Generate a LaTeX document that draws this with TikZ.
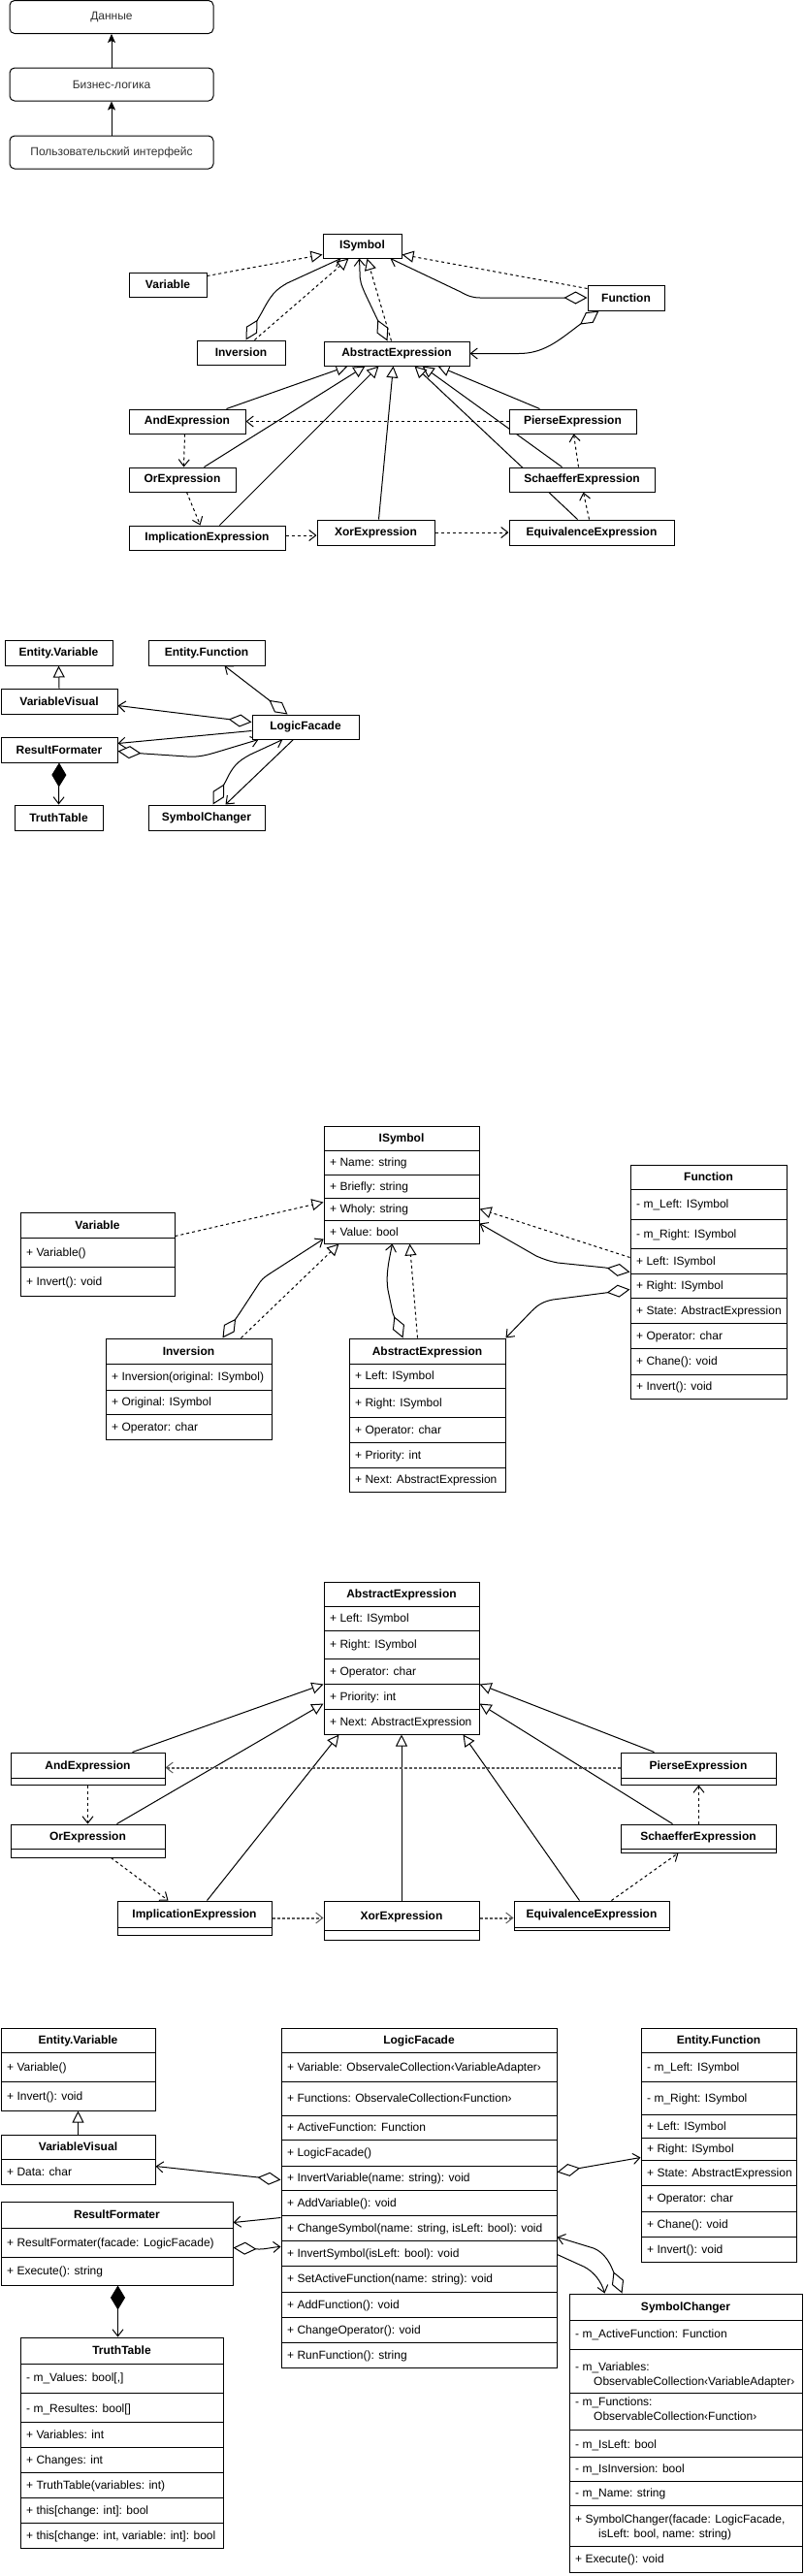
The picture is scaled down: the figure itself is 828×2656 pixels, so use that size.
\documentclass[tikz,border=0pt]{standalone}
\usepackage{fontspec}
\setmainfont{Liberation Sans}
\usetikzlibrary{arrows.meta,fit}
\pgfdeclarelayer{bgzero}
\pgfdeclarelayer{conn}
\pgfsetlayers{bgzero,conn,main}
\newcommand{\twelve}{\fontsize{12pt}{14pt}\selectfont}
\tikzset{
  uT/.tip={Triangle[open,length=12pt,width=12pt,line width=1pt]},
  uV/.tip={Straight Barb[length=7pt,width=11pt,line width=1pt]},
  uD/.tip={Diamond[open,length=24pt,width=13pt,line width=1pt]},
  uF/.tip={Diamond[length=25pt,width=15pt,line width=1pt]},
  uS/.tip={Stealth[length=9pt,width=8pt,inset=2pt]},
  lw/.style={line width=1pt},
  rbx/.style={draw,lw,fill=white,rounded corners=5pt,minimum width=210pt,minimum height=34pt,inner sep=0pt,font=\twelve,text=black!80},
  sbx/.style={draw,lw,fill=white,inner sep=0pt,minimum height=25pt,font=\twelve\bfseries},
  ubx/.style={draw,lw,fill=white,inner sep=0pt},
  hdr/.style={font=\twelve\bfseries,inner sep=0pt,text height=9.6pt,text depth=1pt},
  attr/.style={font=\twelve,anchor=west,inner sep=0pt,text height=9.6pt,text depth=1pt},
  gen/.style={lw,-uT},
  real/.style={lw,dash pattern=on 3pt off 3pt,-uT},
  dep/.style={lw,dash pattern=on 3pt off 3pt,-uV},
  depthick/.style={line width=2pt,draw=black!65,dash pattern=on 3pt off 2pt,-uV},
  assoc/.style={lw,-uV},
  agg/.style={lw,uD-uV},
  comp/.style={lw,uF-uV},
}
\newcommand{\ubox}[5]{\node[ubx,fit={(#2,#3) (#4,#5)}] (#1) {};}
\newcommand{\usep}[3]{\draw[lw] (#1,#3) -- (#2,#3);}
\newcommand{\uhd}[5]{\node[hdr] at ({(#1+#2)/2},{(#3+#4)/2}) {#5};}
\newcommand{\uat}[4]{\node[attr] at ({#1+6},{(#2+#3)/2}) {#4};}
\begin{document}
\begin{tikzpicture}[x=1pt,y=-1pt]
\useasboundingbox (0,0) rectangle (828,2656);
\begin{pgfonlayer}{bgzero}
\fill[white] (0,0) rectangle (828,2656);
\end{pgfonlayer}

% ---------------- Section 1: layers
\node[rbx] (data) at (115,17.5) {Данные};
\node[rbx] (biz) at (115,87) {Бизнес-логика};
\node[rbx] (ui) at (115,157) {Пользовательский интерфейс};
\draw[lw,-uS] (biz.north) -- (data.south);
\draw[lw,-uS] (ui.north) -- (biz.south);

% ---------------- Section 2: entity overview
\node[sbx,minimum width=81pt] (isym2) at (373.5,253.5) {ISymbol};
\node[sbx,minimum width=80pt] (var2) at (173,293.5) {Variable};
\node[sbx,minimum width=79pt,minimum height=26pt] (fun2) at (645.5,307) {Function};
\node[sbx,minimum width=91pt] (inv2) at (248.5,363.5) {Inversion};
\node[sbx,minimum width=150pt] (ae2) at (409,364.5) {AbstractExpression};
\node[sbx,minimum width=120pt] (and2) at (193,434.5) {AndExpression};
\node[sbx,minimum width=131pt] (pie2) at (590.5,434.5) {PierseExpression};
\node[sbx,minimum width=110pt] (or2) at (188,494.5) {OrExpression};
\node[sbx,minimum width=150pt] (sch2) at (600,494.5) {SchaefferExpression};
\node[sbx,minimum width=161pt] (imp2) at (213.5,554.5) {ImplicationExpression};
\node[sbx,minimum width=121pt,minimum height=26pt] (xor2) at (387.5,549) {XorExpression};
\node[sbx,minimum width=170pt,minimum height=26pt] (eq2) at (610,549) {EquivalenceExpression};

\begin{pgfonlayer}{conn}
\draw[real] ([yshift=-4pt]var2.north east) -- ([yshift=4pt]isym2.south west);
\draw[agg] ([xshift=51pt]inv2.north west) -- (270,322) .. controls (280,303) and (284,299) .. (296,292) -- ([xshift=19pt]isym2.south west);
\draw[real] ([xshift=60pt]inv2.north west) -- ([xshift=27pt]isym2.south west);
\draw[agg] ([xshift=66pt]ae2.north west) -- (388,327) -- (378,306) .. controls (372,293) and (371,290) .. (371,280) -- ([xshift=38pt]isym2.south west);
\draw[real] ([xshift=70pt]ae2.north west) -- ([xshift=46pt]isym2.south west);
\draw[real] ([yshift=-4pt]fun2.north west) -- ([yshift=4pt]isym2.south east);
\draw[agg] (fun2.west) -- (495,307) .. controls (487,307) and (482,305) .. (475,301) -- ([xshift=-12pt]isym2.south east);
\draw[agg] ([xshift=12pt]fun2.south west) -- (596,336) .. controls (575,352) and (560,364.5) .. (535,364.5) -- (ae2.east);
\draw[gen] ([xshift=101pt]and2.north west) -- ([xshift=25pt]ae2.south west);
\draw[gen] ([xshift=78pt]or2.north west) -- ([xshift=43pt]ae2.south west);
\draw[gen] ([xshift=94pt]imp2.north west) -- ([xshift=57pt]ae2.south west);
\draw[gen] ([xshift=64pt]xor2.north west) -- ([xshift=72pt]ae2.south west);
\draw[gen] ([xshift=71pt]eq2.north west) -- ([xshift=94pt]ae2.south west);
\draw[gen] ([xshift=55pt]sch2.north west) -- ([xshift=102pt]ae2.south west);
\draw[gen] ([xshift=32pt]pie2.north west) -- ([xshift=118pt]ae2.south west);
\draw[dep] (pie2.west) -- (and2.east);
\draw[dep] ([xshift=58pt]and2.south west) -- ([xshift=57pt]or2.north west);
\draw[dep] ([xshift=60pt]or2.south west) -- ([xshift=74pt]imp2.north west);
\draw[dep] ([yshift=2.5pt]imp2.east) -- ([yshift=-3pt]xor2.west);
\draw[dep] (xor2.east) -- (eq2.west);
\draw[dep] ([xshift=83pt]eq2.north west) -- ([xshift=77pt]sch2.south west);
\draw[dep] ([xshift=72pt]sch2.north west) -- ([xshift=67pt]pie2.south west);
\end{pgfonlayer}

% ---------------- Section 3: UI overview
\node[sbx,minimum width=111pt,minimum height=26pt] (evar3) at (60.5,673) {Entity.Variable};
\node[sbx,minimum width=120pt,minimum height=26pt] (efun3) at (213,673) {Entity.Function};
\node[sbx,minimum width=120pt,minimum height=26pt] (vv3) at (61,723) {VariableVisual};
\node[sbx,minimum width=110pt] (lf3) at (315,749.5) {LogicFacade};
\node[sbx,minimum width=120pt,minimum height=26pt] (rf3) at (61,773) {ResultFormater};
\node[sbx,minimum width=91pt,minimum height=26pt] (tt3) at (60.5,843) {TruthTable};
\node[sbx,minimum width=120pt,minimum height=26pt] (sc3) at (213,843) {SymbolChanger};

\begin{pgfonlayer}{conn}
\draw[gen] (vv3.north) -- (evar3.south);
\draw[agg] ([xshift=37pt]lf3.north west) -- ([xshift=79pt]efun3.south west);
\draw[agg] ([yshift=-8pt]lf3.north west) -- ([yshift=-18pt]vv3.north east);
\draw[assoc] ([yshift=-17pt]lf3.north west) -- ([yshift=-7pt]rf3.north east);
\draw[agg] ([yshift=-15pt]rf3.north east) -- (148,777) -- (193,780) .. controls (205,781) and (215,778) .. (225,775) -- ([xshift=7pt]lf3.south west);
\draw[agg] ([xshift=67pt]sc3.north west) -- (233,805) .. controls (240,790) and (245,785) .. (258,778) -- ([xshift=32pt]lf3.south west);
\draw[assoc] ([xshift=43pt]lf3.south west) -- ([xshift=80pt]sc3.north west);
\draw[comp] (rf3.south) -- (tt3.north);
\end{pgfonlayer}

% ---------------- Section 4: entity classes
\ubox{var4}{21}{1250}{180}{1336}
\uhd{21}{180}{1250}{1276}{Variable}
\usep{21}{180}{1276}\usep{21}{180}{1306}
\uat{21}{1276}{1306}{+ Variable()}
\uat{21}{1306}{1336}{+ Invert(): void}

\ubox{isym4}{334}{1161}{494}{1282}
\uhd{334}{494}{1161}{1186}{ISymbol}
\usep{334}{494}{1186}\usep{334}{494}{1211}\usep{334}{494}{1235}\usep{334}{494}{1258}
\uat{334}{1186}{1211}{+ Name: string}
\uat{334}{1211}{1235}{+ Briefly: string}
\uat{334}{1235}{1258}{+ Wholy: string}
\uat{334}{1258}{1282}{+ Value: bool}

\ubox{inv4}{109}{1380}{280}{1484}
\uhd{109}{280}{1380}{1406}{Inversion}
\usep{109}{280}{1406}\usep{109}{280}{1433}\usep{109}{280}{1458}
\uat{109}{1406}{1433}{+ Inversion(original: ISymbol)}
\uat{109}{1433}{1458}{+ Original: ISymbol}
\uat{109}{1458}{1484}{+ Operator: char}

\ubox{ae4}{360}{1380}{521}{1538}
\uhd{360}{521}{1380}{1406}{AbstractExpression}
\usep{360}{521}{1406}\usep{360}{521}{1431}\usep{360}{521}{1461}\usep{360}{521}{1487}\usep{360}{521}{1513}
\uat{360}{1406}{1431}{+ Left: ISymbol}
\uat{360}{1431}{1461}{+ Right: ISymbol}
\uat{360}{1461}{1487}{+ Operator: char}
\uat{360}{1487}{1513}{+ Priority: int}
\uat{360}{1513}{1538}{+ Next: AbstractExpression}

\ubox{fun4}{650}{1201}{811}{1442}
\uhd{650}{811}{1201}{1226}{Function}
\usep{650}{811}{1226}\usep{650}{811}{1257}\usep{650}{811}{1287}\usep{650}{811}{1313}
\usep{650}{811}{1338}\usep{650}{811}{1364}\usep{650}{811}{1390}\usep{650}{811}{1417}
\uat{650}{1226}{1257}{- m\_Left: ISymbol}
\uat{650}{1257}{1287}{- m\_Right: ISymbol}
\uat{650}{1287}{1313}{+ Left: ISymbol}
\uat{650}{1313}{1338}{+ Right: ISymbol}
\uat{650}{1338}{1364}{+ State: AbstractExpression}
\uat{650}{1364}{1390}{+ Operator: char}
\uat{650}{1390}{1417}{+ Chane(): void}
\uat{650}{1417}{1442}{+ Invert(): void}

\begin{pgfonlayer}{conn}
\draw[real] ([yshift=-25pt]var4.north east) -- ([yshift=-79pt]isym4.north west);
\draw[agg] ([xshift=121pt]inv4.north west) -- (247,1354) -- (268,1322) .. controls (272,1317) and (274,1316) .. (280,1312) -- ([yshift=5pt]isym4.south west);
\draw[real] ([xshift=140pt]inv4.north west) -- ([xshift=16pt]isym4.south west);
\draw[agg] ([xshift=56pt]ae4.north west) -- (405,1354) -- (400,1330) .. controls (398,1318) and (400,1305) .. (402,1295) -- ([xshift=71pt]isym4.south west);
\draw[real] ([xshift=71pt]ae4.north west) -- ([xshift=89pt]isym4.south west);
\draw[real] ([yshift=-96pt]fun4.north west) -- ([yshift=-86pt]isym4.north east);
\draw[agg] ([yshift=-111pt]fun4.north west) -- (624,1307) -- (575,1302) .. controls (565,1300) and (560,1298) .. (553,1295) -- ([yshift=-101pt]isym4.north east);
\draw[agg] ([yshift=-129pt]fun4.north west) -- (624,1333) -- (570,1340) .. controls (560,1342) and (555,1345) .. (548,1352) -- (ae4.north east);
\end{pgfonlayer}

% ---------------- Section 5: expressions
\ubox{ae5}{334}{1631}{494}{1788}
\uhd{334}{494}{1631}{1656}{AbstractExpression}
\usep{334}{494}{1656}\usep{334}{494}{1681}\usep{334}{494}{1710}\usep{334}{494}{1736}\usep{334}{494}{1762}
\uat{334}{1656}{1681}{+ Left: ISymbol}
\uat{334}{1681}{1710}{+ Right: ISymbol}
\uat{334}{1710}{1736}{+ Operator: char}
\uat{334}{1736}{1762}{+ Priority: int}
\uat{334}{1762}{1788}{+ Next: AbstractExpression}

\ubox{and5}{11}{1807}{170}{1840}\uhd{11}{170}{1807}{1833}{AndExpression}\usep{11}{170}{1833}
\ubox{pie5}{640}{1807}{800}{1840}\uhd{640}{800}{1807}{1833}{PierseExpression}\usep{640}{800}{1833}
\ubox{or5}{11}{1881}{170}{1915}\uhd{11}{170}{1881}{1906}{OrExpression}\usep{11}{170}{1906}
\ubox{sch5}{640}{1881}{800}{1910}\uhd{640}{800}{1881}{1906}{SchaefferExpression}\usep{640}{800}{1906}
\ubox{imp5}{121}{1960}{280}{1995}\uhd{121}{280}{1960}{1987}{ImplicationExpression}\usep{121}{280}{1987}
\ubox{xor5}{334}{1960}{494}{2000}\uhd{334}{494}{1960}{1990}{XorExpression}\usep{334}{494}{1990}
\ubox{eq5}{530}{1960}{690}{1990}\uhd{530}{690}{1960}{1987}{EquivalenceExpression}\usep{530}{690}{1987}

\begin{pgfonlayer}{conn}
\draw[gen] ([xshift=126pt]and5.north west) -- ([yshift=-106pt]ae5.north west);
\draw[gen] ([xshift=110pt]or5.north west) -- ([yshift=-126pt]ae5.north west);
\draw[gen] ([xshift=93pt]imp5.north west) -- ([xshift=16pt]ae5.south west);
\draw[gen] (xor5.north) -- (ae5.south);
\draw[gen] ([xshift=68pt]eq5.north west) -- ([xshift=144pt]ae5.south west);
\draw[gen] ([xshift=54pt]sch5.north west) -- ([yshift=-126pt]ae5.north east);
\draw[gen] ([xshift=35pt]pie5.north west) -- ([yshift=-106pt]ae5.north east);
\draw[depthick] ([yshift=-16pt]pie5.north west) -- ([yshift=-16pt]and5.north east);
\draw[dep] ([xshift=80pt]and5.south west) -- ([xshift=80pt]or5.north west);
\draw[dep] ([xshift=104pt]or5.south west) -- ([xshift=53pt]imp5.north west);
\draw[depthick] ([yshift=-18pt]imp5.north east) -- ([yshift=-18pt]xor5.north west);
\draw[depthick] ([yshift=-18pt]xor5.north east) -- ([yshift=-18pt]eq5.north west);
\draw[dep] ([xshift=101pt]eq5.north west) -- ([xshift=60pt]sch5.south west);
\draw[dep] ([xshift=81pt]sch5.north west) -- ([xshift=81pt]pie5.south west);
\end{pgfonlayer}

% ---------------- Section 6: UI classes
\ubox{evar6}{1}{2091}{160}{2176}
\uhd{1}{160}{2091}{2116}{Entity.Variable}
\usep{1}{160}{2116}\usep{1}{160}{2146}
\uat{1}{2116}{2146}{+ Variable()}
\uat{1}{2146}{2176}{+ Invert(): void}

\ubox{vv6}{1}{2201}{160}{2252}
\uhd{1}{160}{2201}{2226}{VariableVisual}
\usep{1}{160}{2226}
\uat{1}{2226}{2252}{+ Data: char}

\ubox{rf6}{1}{2270}{240}{2356}
\uhd{1}{240}{2270}{2297}{ResultFormater}
\usep{1}{240}{2297}\usep{1}{240}{2327}
\uat{1}{2297}{2327}{+ ResultFormater(facade: LogicFacade)}
\uat{1}{2327}{2356}{+ Execute(): string}

\ubox{tt6}{21}{2410}{230}{2627}
\uhd{21}{230}{2410}{2437}{TruthTable}
\usep{21}{230}{2437}\usep{21}{230}{2467}\usep{21}{230}{2497}\usep{21}{230}{2523}
\usep{21}{230}{2549}\usep{21}{230}{2575}\usep{21}{230}{2601}
\uat{21}{2437}{2465}{- m\_Values: bool[,]}
\uat{21}{2470}{2497}{- m\_Resultes: bool[]}
\uat{21}{2497}{2523}{+ Variables: int}
\uat{21}{2523}{2549}{+ Changes: int}
\uat{21}{2549}{2575}{+ TruthTable(variables: int)}
\uat{21}{2575}{2601}{+ this[change: int]: bool}
\uat{21}{2601}{2627}{+ this[change: int, variable: int]: bool}

\ubox{lf6}{290}{2091}{574}{2441}
\uhd{290}{574}{2091}{2116}{LogicFacade}
\usep{290}{574}{2116}\usep{290}{574}{2146}\usep{290}{574}{2181}\usep{290}{574}{2206}
\usep{290}{574}{2233}\usep{290}{574}{2258}\usep{290}{574}{2284}\usep{290}{574}{2310}
\usep{290}{574}{2336}\usep{290}{574}{2363}\usep{290}{574}{2389}\usep{290}{574}{2415}
\uat{290}{2116}{2146}{+ Variable: ObservaleCollection‹VariableAdapter›}
\uat{290}{2146}{2181}{+ Functions: ObservaleCollection‹Function›}
\uat{290}{2181}{2206}{+ ActiveFunction: Function}
\uat{290}{2206}{2233}{+ LogicFacade()}
\uat{290}{2233}{2258}{+ InvertVariable(name: string): void}
\uat{290}{2258}{2284}{+ AddVariable(): void}
\uat{290}{2284}{2310}{+ ChangeSymbol(name: string, isLeft: bool): void}
\uat{290}{2310}{2336}{+ InvertSymbol(isLeft: bool): void}
\uat{290}{2336}{2363}{+ SetActiveFunction(name: string): void}
\uat{290}{2363}{2389}{+ AddFunction(): void}
\uat{290}{2389}{2415}{+ ChangeOperator(): void}
\uat{290}{2415}{2441}{+ RunFunction(): string}

\ubox{efun6}{661}{2091}{821}{2332}
\uhd{661}{821}{2091}{2116}{Entity.Function}
\usep{661}{821}{2116}\usep{661}{821}{2146}\usep{661}{821}{2180}\usep{661}{821}{2204}
\usep{661}{821}{2227}\usep{661}{821}{2253}\usep{661}{821}{2280}\usep{661}{821}{2306}
\uat{661}{2116}{2146}{- m\_Left: ISymbol}
\uat{661}{2146}{2180}{- m\_Right: ISymbol}
\uat{661}{2180}{2204}{+ Left: ISymbol}
\uat{661}{2204}{2227}{+ Right: ISymbol}
\uat{661}{2227}{2253}{+ State: AbstractExpression}
\uat{661}{2253}{2280}{+ Operator: char}
\uat{661}{2280}{2306}{+ Chane(): void}
\uat{661}{2306}{2332}{+ Invert(): void}

\ubox{sc6}{587}{2365}{827}{2652}
\uhd{587}{827}{2365}{2392}{SymbolChanger}
\usep{587}{827}{2392}\usep{587}{827}{2422}\usep{587}{827}{2467}\usep{587}{827}{2505}
\usep{587}{827}{2533}\usep{587}{827}{2558}\usep{587}{827}{2583}\usep{587}{827}{2625}
\uat{587}{2392}{2420}{- m\_ActiveFunction: Function}
\node[attr] at (593,2440) {- m\_Variables:};
\node[attr] at (612,2455) {ObservableCollection‹VariableAdapter›};
\node[attr] at (593,2476) {- m\_Functions:};
\node[attr] at (612,2491) {ObservableCollection‹Function›};
\uat{587}{2507}{2533}{- m\_IsLeft: bool}
\uat{587}{2533}{2558}{- m\_IsInversion: bool}
\uat{587}{2558}{2583}{- m\_Name: string}
\node[attr] at (593,2597) {+ SymbolChanger(facade: LogicFacade,};
\node[attr] at (617,2612) {isLeft: bool, name: string)};
\uat{587}{2625}{2652}{+ Execute(): void}

\begin{pgfonlayer}{conn}
\draw[gen] ([xshift=80pt]vv6.north west) -- ([xshift=80pt]evar6.south west);
\draw[agg] ([yshift=-157pt]lf6.north west) -- ([yshift=-33pt]vv6.north east);
\draw[assoc] ([yshift=-196pt]lf6.north west) -- ([yshift=-22pt]rf6.north east);
\draw[agg] ([yshift=-48pt]rf6.north east) -- (267,2319) .. controls (275,2319) and (280,2317) .. ([yshift=-226pt]lf6.north west);
\draw[agg] ([yshift=-149pt]lf6.north east) -- ([yshift=-134pt]efun6.north west);
\draw[assoc] ([yshift=-234pt]lf6.north east) -- (602,2337) .. controls (612,2342) and (620,2352) .. ([xshift=37pt]sc6.north west);
\draw[agg] ([xshift=55pt]sc6.north west) -- (632,2341) .. controls (628,2331) and (622,2322) .. (612,2318) -- ([yshift=-216pt]lf6.north east);
\draw[comp] ([xshift=121pt]rf6.south west) -- ([xshift=101pt]tt6.north west);
\end{pgfonlayer}
\end{tikzpicture}
\end{document}
